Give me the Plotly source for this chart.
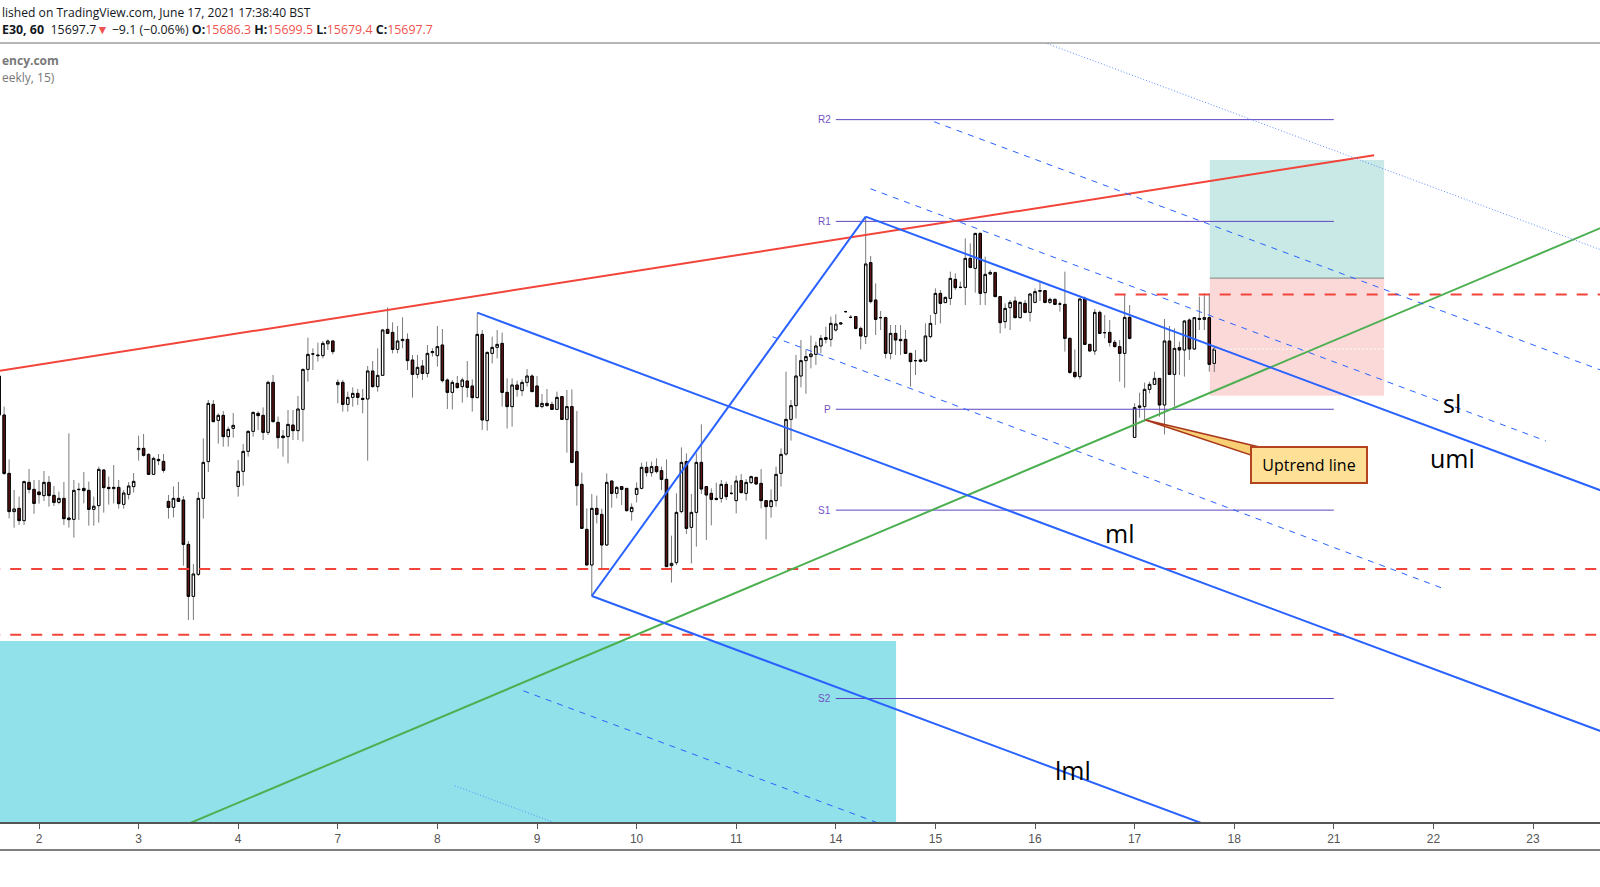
import plotly.graph_objects as go

# DE30 hourly candles, bar 0 = first bar of June 2 (20 bars per trading day)
first_bar = -8

opens = [
    15676.2, 15645.0, 15598.3, 15567.7, 15570.3, 15560.5, 15591.1, 15585.5, 15583.4, 15580.5,
    15591.1, 15580.7, 15575.1, 15578.3, 15562.6, 15561.5, 15585.3, 15586.3, 15584.7, 15569.5,
    15572.5, 15601.0, 15587.1, 15586.1, 15587.1, 15573.5, 15581.5, 15587.7, 15617.3, 15618.3,
    15613.5, 15597.5, 15609.5, 15607.9, 15575.9, 15571.1, 15578.3, 15577.0, 15541.5, 15499.9,
    15517.5, 15578.3, 15607.7, 15653.5, 15640.7, 15644.7, 15627.7, 15634.3, 15587.9, 15599.9,
    15615.9, 15631.9, 15646.3, 15644.7, 15631.1, 15671.1, 15639.1, 15628.2, 15627.7, 15637.0,
    15632.5, 15649.5, 15681.5, 15693.8, 15693.0, 15692.5, 15702.0, 15704.2, 15669.3, 15671.1,
    15653.5, 15659.1, 15662.3, 15658.3, 15657.8, 15680.2, 15667.7, 15676.7, 15713.5, 15711.1,
    15697.5, 15704.5, 15705.5, 15689.0, 15677.5, 15684.2, 15678.3, 15694.9, 15692.5, 15701.0,
    15673.0, 15663.1, 15670.3, 15667.7, 15672.2, 15668.2, 15658.9, 15709.5, 15640.5, 15694.3,
    15699.1, 15702.3, 15663.1, 15651.7, 15669.0, 15664.5, 15671.1, 15676.2, 15668.2, 15651.7,
    15654.3, 15653.5, 15649.5, 15659.7, 15641.5, 15651.7, 15615.7, 15589.5, 15553.5, 15525.0,
    15570.3, 15565.5, 15541.0, 15592.2, 15582.3, 15587.7, 15586.3, 15567.7, 15581.5, 15586.3,
    15603.1, 15598.9, 15603.7, 15600.5, 15593.5, 15524.5, 15526.9, 15567.7, 15607.7, 15555.1,
    15567.1, 15607.1, 15587.7, 15582.3, 15578.3, 15578.3, 15589.5, 15582.3, 15576.5, 15592.5,
    15582.3, 15590.9, 15595.1, 15590.3, 15576.5, 15571.7, 15576.5, 15598.3, 15613.8, 15641.5,
    15652.5, 15676.2, 15688.5, 15691.7, 15693.5, 15700.2, 15706.9, 15705.5, 15713.0, 15717.8,
    15727.7, 15723.1, 15723.7, 15714.3, 15707.7, 15766.9, 15737.0, 15722.9, 15722.9, 15694.3,
    15710.3, 15705.5, 15705.5, 15694.3, 15688.5, 15689.0, 15688.2, 15707.7, 15726.3, 15742.3,
    15734.9, 15738.3, 15753.5, 15747.1, 15747.1, 15770.3, 15762.3, 15790.3, 15742.9, 15757.8,
    15758.9, 15739.7, 15719.7, 15730.9, 15736.2, 15722.9, 15734.3, 15727.1, 15735.1, 15744.0,
    15744.5, 15735.1, 15737.5, 15733.8, 15733.5, 15706.3, 15679.1, 15675.7, 15738.3, 15701.5,
    15696.2, 15727.1, 15710.9, 15711.1, 15703.1, 15699.7, 15694.3, 15723.1, 15627.1, 15651.1,
    15651.7, 15665.5, 15669.5, 15674.3, 15653.0, 15704.2, 15677.5, 15698.9, 15697.0, 15721.0,
    15697.8, 15722.3, 15721.5, 15722.9, 15686.3,
]
highs = [
    15679.7, 15651.7, 15609.5, 15585.0, 15579.7, 15592.5, 15601.8, 15593.0, 15593.0, 15600.2,
    15596.2, 15588.2, 15583.7, 15591.4, 15630.3, 15593.0, 15590.6, 15599.4, 15591.7, 15579.7,
    15603.7, 15601.5, 15595.7, 15605.0, 15593.0, 15585.0, 15591.4, 15598.6, 15628.5, 15629.8,
    15614.3, 15611.7, 15613.8, 15613.8, 15581.0, 15587.9, 15591.4, 15580.2, 15544.2, 15525.8,
    15583.4, 15626.3, 15657.0, 15657.0, 15646.3, 15648.2, 15635.7, 15646.6, 15609.0, 15621.8,
    15633.0, 15647.7, 15648.0, 15651.1, 15672.5, 15677.0, 15643.7, 15633.0, 15649.0, 15649.0,
    15660.2, 15682.0, 15706.9, 15698.3, 15702.9, 15704.2, 15705.5, 15704.5, 15673.5, 15673.0,
    15663.7, 15667.1, 15665.8, 15665.8, 15684.2, 15688.2, 15698.3, 15713.5, 15731.1, 15719.1,
    15716.2, 15723.1, 15710.3, 15693.0, 15693.0, 15689.0, 15701.0, 15698.3, 15716.2, 15713.8,
    15674.3, 15673.0, 15676.2, 15674.9, 15688.2, 15673.5, 15726.9, 15713.0, 15695.7, 15707.7,
    15713.0, 15710.9, 15674.3, 15674.3, 15672.5, 15673.5, 15681.8, 15677.5, 15676.2, 15661.8,
    15665.8, 15655.7, 15663.7, 15660.2, 15665.0, 15665.5, 15648.2, 15598.9, 15570.3, 15581.8,
    15580.5, 15570.0, 15598.3, 15592.5, 15588.2, 15588.2, 15586.5, 15574.3, 15591.1, 15606.9,
    15607.7, 15607.7, 15610.3, 15603.7, 15609.5, 15548.5, 15582.3, 15619.1, 15614.3, 15581.8,
    15614.3, 15637.5, 15587.7, 15586.3, 15590.9, 15593.0, 15591.7, 15589.0, 15596.5, 15597.8,
    15593.8, 15596.5, 15595.1, 15601.8, 15577.0, 15585.5, 15603.7, 15618.3, 15679.7, 15657.0,
    15693.0, 15705.0, 15697.5, 15708.5, 15703.7, 15709.0, 15715.7, 15723.7, 15725.5, 15719.0,
    15728.5, 15725.0, 15724.2, 15715.7, 15803.7, 15772.2, 15750.3, 15728.2, 15723.7, 15717.0,
    15717.0, 15717.0, 15713.0, 15694.9, 15697.0, 15690.0, 15718.3, 15725.0, 15746.3, 15745.0,
    15739.7, 15759.7, 15758.3, 15751.7, 15786.3, 15782.3, 15790.5, 15790.9, 15771.7, 15761.0,
    15759.7, 15740.0, 15734.3, 15737.0, 15739.7, 15735.7, 15737.0, 15742.3, 15746.3, 15752.2,
    15745.0, 15738.9, 15738.3, 15735.7, 15759.7, 15707.1, 15697.5, 15738.3, 15739.7, 15701.5,
    15729.8, 15728.5, 15725.0, 15721.0, 15705.0, 15705.0, 15741.0, 15733.0, 15654.3, 15662.9,
    15670.9, 15671.7, 15679.7, 15674.3, 15721.8, 15716.2, 15714.3, 15703.7, 15721.0, 15722.3,
    15722.9, 15739.7, 15742.3, 15742.3, 15699.5,
]
lows = [
    15644.2, 15597.0, 15562.3, 15554.9, 15557.0, 15557.0, 15582.3, 15566.0, 15574.1, 15576.2,
    15571.7, 15572.2, 15573.5, 15557.0, 15554.9, 15546.9, 15561.0, 15574.3, 15556.5, 15556.5,
    15558.9, 15566.9, 15573.3, 15574.3, 15570.1, 15570.1, 15577.5, 15582.9, 15608.5, 15611.7,
    15597.3, 15597.0, 15605.0, 15598.9, 15562.1, 15563.1, 15575.7, 15524.5, 15481.0, 15481.0,
    15516.2, 15562.1, 15599.4, 15639.1, 15622.1, 15619.7, 15619.7, 15626.9, 15579.7, 15588.5,
    15611.7, 15627.7, 15633.0, 15625.0, 15629.0, 15639.0, 15618.1, 15611.7, 15606.3, 15625.0,
    15625.0, 15623.7, 15671.7, 15681.0, 15687.7, 15690.3, 15697.0, 15693.5, 15654.3, 15647.7,
    15647.7, 15651.7, 15653.0, 15646.3, 15608.5, 15666.9, 15663.7, 15676.2, 15709.8, 15694.3,
    15694.3, 15698.3, 15681.0, 15658.9, 15674.3, 15673.0, 15675.1, 15691.7, 15683.7, 15670.9,
    15649.8, 15649.5, 15666.3, 15654.9, 15659.1, 15647.7, 15658.5, 15633.0, 15632.5, 15686.3,
    15690.3, 15651.7, 15634.3, 15635.7, 15659.7, 15660.2, 15667.7, 15663.5, 15651.5, 15650.3,
    15651.7, 15649.0, 15649.0, 15641.0, 15614.9, 15606.3, 15572.5, 15553.8, 15525.0, 15500.2,
    15558.3, 15522.3, 15540.5, 15570.9, 15578.3, 15573.0, 15567.7, 15560.5, 15575.1, 15585.5,
    15595.7, 15595.7, 15598.3, 15585.0, 15523.5, 15510.9, 15525.0, 15566.3, 15549.8, 15526.3,
    15539.7, 15581.8, 15545.0, 15556.7, 15576.5, 15574.9, 15577.0, 15581.0, 15566.3, 15582.3,
    15576.5, 15589.8, 15589.5, 15570.3, 15545.5, 15562.9, 15571.7, 15587.7, 15612.5, 15624.5,
    15642.3, 15667.1, 15662.0, 15682.3, 15685.0, 15694.3, 15702.3, 15699.7, 15711.7, 15717.0,
    15727.0, 15722.3, 15713.5, 15697.5, 15701.8, 15734.3, 15709.0, 15713.0, 15690.3, 15689.5,
    15693.0, 15693.0, 15693.8, 15667.7, 15677.0, 15687.0, 15687.7, 15706.3, 15717.0, 15718.3,
    15734.7, 15733.0, 15745.0, 15746.3, 15733.0, 15762.3, 15742.9, 15733.0, 15733.0, 15757.0,
    15739.5, 15710.3, 15714.3, 15713.0, 15722.3, 15722.3, 15726.3, 15719.7, 15734.3, 15736.2,
    15734.3, 15733.8, 15733.0, 15727.7, 15695.7, 15677.8, 15674.3, 15673.5, 15701.5, 15696.2,
    15693.0, 15710.3, 15706.3, 15699.7, 15699.1, 15671.7, 15666.9, 15705.5, 15627.1, 15642.9,
    15639.7, 15662.3, 15669.0, 15643.7, 15629.5, 15677.5, 15651.7, 15677.0, 15675.7, 15689.0,
    15697.0, 15713.0, 15713.0, 15679.7, 15679.4,
]
closes = [
    15645.0, 15598.3, 15567.7, 15569.8, 15560.5, 15591.7, 15585.5, 15574.3, 15581.3, 15591.1,
    15580.5, 15575.1, 15578.3, 15562.1, 15561.3, 15584.7, 15585.5, 15584.5, 15569.5, 15572.0,
    15601.5, 15586.9, 15586.1, 15587.1, 15574.1, 15582.6, 15588.2, 15591.9, 15618.3, 15612.7,
    15597.5, 15610.3, 15608.5, 15600.7, 15571.1, 15578.3, 15575.9, 15541.5, 15499.9, 15517.8,
    15578.3, 15607.1, 15654.3, 15639.7, 15644.7, 15627.7, 15633.5, 15636.7, 15599.9, 15615.9,
    15631.9, 15647.1, 15644.5, 15631.1, 15671.1, 15639.7, 15626.9, 15626.9, 15637.5, 15632.5,
    15649.8, 15681.5, 15693.5, 15693.8, 15692.5, 15702.3, 15704.2, 15695.7, 15671.1, 15653.5,
    15659.1, 15662.3, 15659.1, 15657.5, 15680.2, 15667.7, 15676.7, 15713.0, 15710.3, 15697.5,
    15704.2, 15705.5, 15688.5, 15677.5, 15683.1, 15678.3, 15694.3, 15695.7, 15699.7, 15672.5,
    15663.1, 15671.1, 15666.9, 15673.0, 15667.1, 15658.9, 15709.5, 15641.0, 15695.1, 15699.1,
    15701.5, 15663.1, 15651.7, 15669.0, 15665.5, 15671.1, 15676.2, 15663.7, 15651.7, 15654.3,
    15652.5, 15649.5, 15659.1, 15641.5, 15651.7, 15607.1, 15588.5, 15554.3, 15525.0, 15570.3,
    15565.5, 15541.0, 15591.1, 15582.3, 15587.1, 15585.5, 15568.5, 15571.1, 15586.3, 15603.1,
    15598.9, 15603.7, 15599.7, 15593.5, 15523.7, 15526.3, 15567.1, 15607.1, 15554.3, 15567.1,
    15607.1, 15585.8, 15581.0, 15577.5, 15577.5, 15589.5, 15579.7, 15582.3, 15592.2, 15582.9,
    15591.1, 15595.7, 15589.8, 15576.5, 15571.7, 15576.5, 15597.5, 15613.5, 15641.5, 15652.5,
    15676.2, 15688.5, 15691.7, 15693.8, 15700.2, 15706.3, 15705.5, 15718.3, 15717.8, 15718.6,
    15727.7, 15723.1, 15714.3, 15708.2, 15765.8, 15735.7, 15721.5, 15722.9, 15694.3, 15710.3,
    15705.0, 15704.5, 15694.3, 15687.7, 15688.5, 15688.0, 15708.2, 15718.3, 15742.3, 15734.3,
    15739.1, 15754.3, 15746.9, 15747.1, 15770.3, 15763.1, 15790.3, 15742.3, 15757.5, 15759.1,
    15739.7, 15718.9, 15730.3, 15735.1, 15722.9, 15735.1, 15727.1, 15741.8, 15743.7, 15744.5,
    15735.1, 15737.5, 15733.5, 15733.8, 15706.3, 15679.1, 15675.7, 15737.8, 15701.5, 15696.2,
    15727.1, 15710.3, 15710.9, 15703.1, 15699.7, 15694.3, 15723.1, 15706.3, 15650.9, 15652.2,
    15665.5, 15669.5, 15674.3, 15653.0, 15704.2, 15677.5, 15698.3, 15697.0, 15720.2, 15697.8,
    15722.9, 15721.5, 15722.9, 15685.5, 15697.7,
]

day_labels = ["2", "3", "4", "7", "8", "9", "10", "11", "14", "15", "16", "17", "18", "21", "22", "23"]
bars_per_day = 20

# drawings, in (bar, price)
resistance_x = [-8, 268.1]
resistance_y = [15680.3, 15852.8]
uptrend_x = [25, 314]
uptrend_y = [15309.6, 15795.3]
support_levels = [15521.8, 15469.2]
entry_dash_from = 216
entry_dash_level = 15741.5

pivot_names = ["R2", "R1", "P", "S1", "S2"]
pivot_levels = [15881.3, 15799.9, 15649.6, 15568.9, 15418.2]
pivot_span = [160, 260]

fork_bars = [88, 111, 166]  # A on a high, B on a low, C on a high
sl_x = [166.95, 302.6]
sl_y = [15826.0, 15624.2]
inner_x = [147.3, 282.1]
inner_y = [15707.6, 15506.0]

zone_x = [-10, 172.1]
zone_y = [15300.0, 15464.2]
trade_x = [235.1, 270.1]
trade_target, trade_entry, trade_stop = 15849.0, 15754.5, 15660.4

line_labels = [("sl", 283.8, 15654.8), ("uml", 283.8, 15610.4), ("ml", 216.9, 15550.8), ("lml", 207.7, 15360.7)]
callout_tip = (222.2, 15641.0)
callout_base = [(244.8, 15619.6), (243.3, 15613.0)]
callout_box = (255.1, 15604.8)

BLUE = "#2962ff"
RED = "#f2443a"
PURPLE = "#5e45bf"
x_end = 314

x_bars = list(range(first_bar, first_bar + len(opens)))
body_hi = [max(o, c) for o, c in zip(opens, closes)]
body_lo = [min(o, c) for o, c in zip(opens, closes)]

fig = go.Figure()
# wicks (grey) then bodies with black outline on top
fig.add_trace(go.Candlestick(
    x=x_bars, open=opens, high=highs, low=lows, close=closes,
    increasing=dict(line=dict(color="#7a7a7a", width=1), fillcolor="#ffffff"),
    decreasing=dict(line=dict(color="#7a7a7a", width=1), fillcolor="#5a1414"),
    hoverinfo="skip"))
fig.add_trace(go.Candlestick(
    x=x_bars, open=opens, high=body_hi, low=body_lo, close=closes,
    increasing=dict(line=dict(color="#000000", width=1), fillcolor="#ffffff"),
    decreasing=dict(line=dict(color="#000000", width=1), fillcolor="#5a1414"),
    hoverinfo="skip"))


def seg(x0, y0, x1, y1, color, width=1, dash="solid"):
    return dict(type="line", xref="x", yref="y", x0=x0, y0=y0, x1=x1, y1=y1,
                line=dict(color=color, width=width, dash=dash), layer="above")


shapes = []
# zones and position boxes under the candles
shapes.append(dict(type="rect", xref="x", yref="y", x0=zone_x[0], x1=zone_x[1], y0=zone_y[0], y1=zone_y[1],
                   fillcolor="#91e1ea", line=dict(width=0), layer="below"))
shapes.append(dict(type="rect", xref="x", yref="y", x0=trade_x[0], x1=trade_x[1], y0=trade_entry, y1=trade_target,
                   fillcolor="#c9e9e6", line=dict(width=0), layer="below"))
shapes.append(dict(type="rect", xref="x", yref="y", x0=trade_x[0], x1=trade_x[1], y0=trade_stop, y1=trade_entry,
                   fillcolor="#fcd9d9", line=dict(width=0), layer="below"))
shapes.append(seg(trade_x[0], trade_entry, trade_x[1], trade_entry, "#808080", 1))
shapes.append(seg(x_bars[-1], closes[-1], trade_x[1], closes[-1], "#ffffff", 1, "2px,2px"))

# pivots
for lvl in pivot_levels:
    shapes.append(seg(pivot_span[0], lvl, pivot_span[1], lvl, PURPLE, 1))

# horizontal red levels
for lvl in support_levels:
    shapes.append(seg(-10, lvl, x_end, lvl, RED, 2, "11px,10px"))
shapes.append(seg(entry_dash_from, entry_dash_level, x_end, entry_dash_level, RED, 2, "11px,10px"))

# trend lines
shapes.append(seg(resistance_x[0], resistance_y[0], resistance_x[1], resistance_y[1], RED, 2))
shapes.append(seg(uptrend_x[0], uptrend_y[0], uptrend_x[1], uptrend_y[1], "#4caf50", 2))

# pitchfork
ax, bx, cx = fork_bars
ay = highs[ax - first_bar]
by = lows[bx - first_bar]
cy = highs[cx - first_bar]
mx, my = (bx + cx) / 2, (by + cy) / 2
slope = (my - ay) / (mx - ax)
dx, dy = cx - mx, cy - my


def fork_line(x0, y0, color=BLUE, width=2, dash="solid"):
    return seg(x0, y0, x_end, y0 + slope * (x_end - x0), color, width, dash)


shapes.append(seg(bx, by, cx, cy, BLUE, 2))
shapes.append(fork_line(ax, ay))
shapes.append(fork_line(bx, by))
shapes.append(fork_line(cx, cy))
shapes.append(fork_line(cx + 0.5 * dx, cy + 0.5 * dy, width=1, dash="6px,6px"))
shapes.append(fork_line(bx - 0.5 * dx, by - 0.5 * dy, width=1, dash="6px,6px"))
shapes.append(fork_line(cx + dx, cy + dy, color="#5b8cff", width=1, dash="1px,2px"))
shapes.append(fork_line(bx - dx, by - dy, color="#5b8cff", width=1, dash="1px,2px"))
shapes.append(seg(sl_x[0], sl_y[0], sl_x[1], sl_y[1], BLUE, 1, "6px,6px"))
shapes.append(seg(inner_x[0], inner_y[0], inner_x[1], inner_y[1], BLUE, 1, "6px,6px"))

# callout pointer
tx, ty = callout_tip
(b1x, b1y), (b2x, b2y) = callout_base
shapes.append(dict(type="path", xref="x", yref="y",
                   path=f"M {tx},{ty} L {b1x},{b1y} L {b2x},{b2y} Z",
                   fillcolor="#f9cf74", line=dict(color="#a8361b", width=1.5), layer="above"))

# frame lines
shapes.append(dict(type="line", xref="paper", yref="paper", x0=0, x1=1, y0=1, y1=1,
                   line=dict(color="#6e6e6e", width=1)))
shapes.append(dict(type="line", xref="paper", yref="paper", x0=0, x1=1, y0=-0.0359, y1=-0.0359,
                   line=dict(color="#555555", width=1.5)))

annotations = []
for name, lvl in zip(pivot_names, pivot_levels):
    annotations.append(dict(x=pivot_span[0], y=lvl, xref="x", yref="y", text=name, showarrow=False,
                            xanchor="right", yanchor="middle", xshift=-3,
                            font=dict(family="Liberation Sans, Arial", size=10, color="#7352c4")))

for txt, bx_, py in line_labels:
    annotations.append(dict(x=bx_, y=py, xref="x", yref="y", text=txt, showarrow=False,
                            xanchor="center", yanchor="middle",
                            font=dict(family="Open Sans, sans-serif", size=25, color="#000000")))

annotations.append(dict(x=callout_box[0], y=callout_box[1], xref="x", yref="y", text="Uptrend line",
                        showarrow=False, xanchor="center", yanchor="middle",
                        bgcolor="#fee096", bordercolor="#b4441f", borderwidth=2, borderpad=2,
                        width=110, height=30,
                        font=dict(family="Open Sans, sans-serif", size=16, color="#000000")))

red_txt = "#ef5350"
annotations.append(dict(x=0, y=1.0389, xref="paper", yref="paper", xanchor="left", yanchor="middle",
                        showarrow=False, text="lished on TradingView.com, June 17, 2021 17:38:40 BST",
                        font=dict(family="Open Sans, sans-serif", size=12.1, color="#131722")))
annotations.append(dict(
    x=0, y=1.0177, xref="paper", yref="paper", xanchor="left", yanchor="middle", showarrow=False,
    text=(f"<b>E30, 60</b>  15697.7<span style='color:{red_txt}'>▼</span> −9.1 (−0.06%) "
          f"<b>O:</b><span style='color:{red_txt}'>15686.3</span> "
          f"<b>H:</b><span style='color:{red_txt}'>15699.5</span> "
          f"<b>L:</b><span style='color:{red_txt}'>15679.4</span> "
          f"<b>C:</b><span style='color:{red_txt}'>15697.7</span>"),
    font=dict(family="Open Sans, sans-serif", size=12.4, color="#131722")))
annotations.append(dict(x=0, y=0.9769, xref="paper", yref="paper", xanchor="left", yanchor="middle",
                        showarrow=False, text="<b>ency.com</b>",
                        font=dict(family="Open Sans, sans-serif", size=12, color="#787878")))
annotations.append(dict(x=0, y=0.9551, xref="paper", yref="paper", xanchor="left", yanchor="middle",
                        showarrow=False, text="eekly, 15)",
                        font=dict(family="Open Sans, sans-serif", size=12, color="#787878")))

fig.update_layout(
    width=1600, height=887,
    margin=dict(l=0, r=0, t=43, b=65),
    paper_bgcolor="#ffffff", plot_bgcolor="#ffffff",
    showlegend=False,
    shapes=shapes,
    annotations=annotations,
    xaxis=dict(
        range=[-7.831, 313.45],
        tickvals=[i * bars_per_day for i in range(len(day_labels))],
        ticktext=day_labels,
        ticks="outside", ticklen=5, tickcolor="#555555",
        showline=True, linecolor="#555555", linewidth=1.5,
        showgrid=False, zeroline=False,
        tickfont=dict(family="Liberation Sans, Arial", size=12, color="#555555"),
        rangeslider=dict(visible=False),
        fixedrange=True,
    ),
    yaxis=dict(range=[15319.4, 15942.6], visible=False, showgrid=False, zeroline=False, fixedrange=True),
    hovermode=False,
)

# drop the browser's default page margin so the chart sits at the window origin
fig.write_html("out.html", config={"displayModeBar": False},
               post_script="document.body.style.margin='0';document.body.style.overflow='hidden';")
